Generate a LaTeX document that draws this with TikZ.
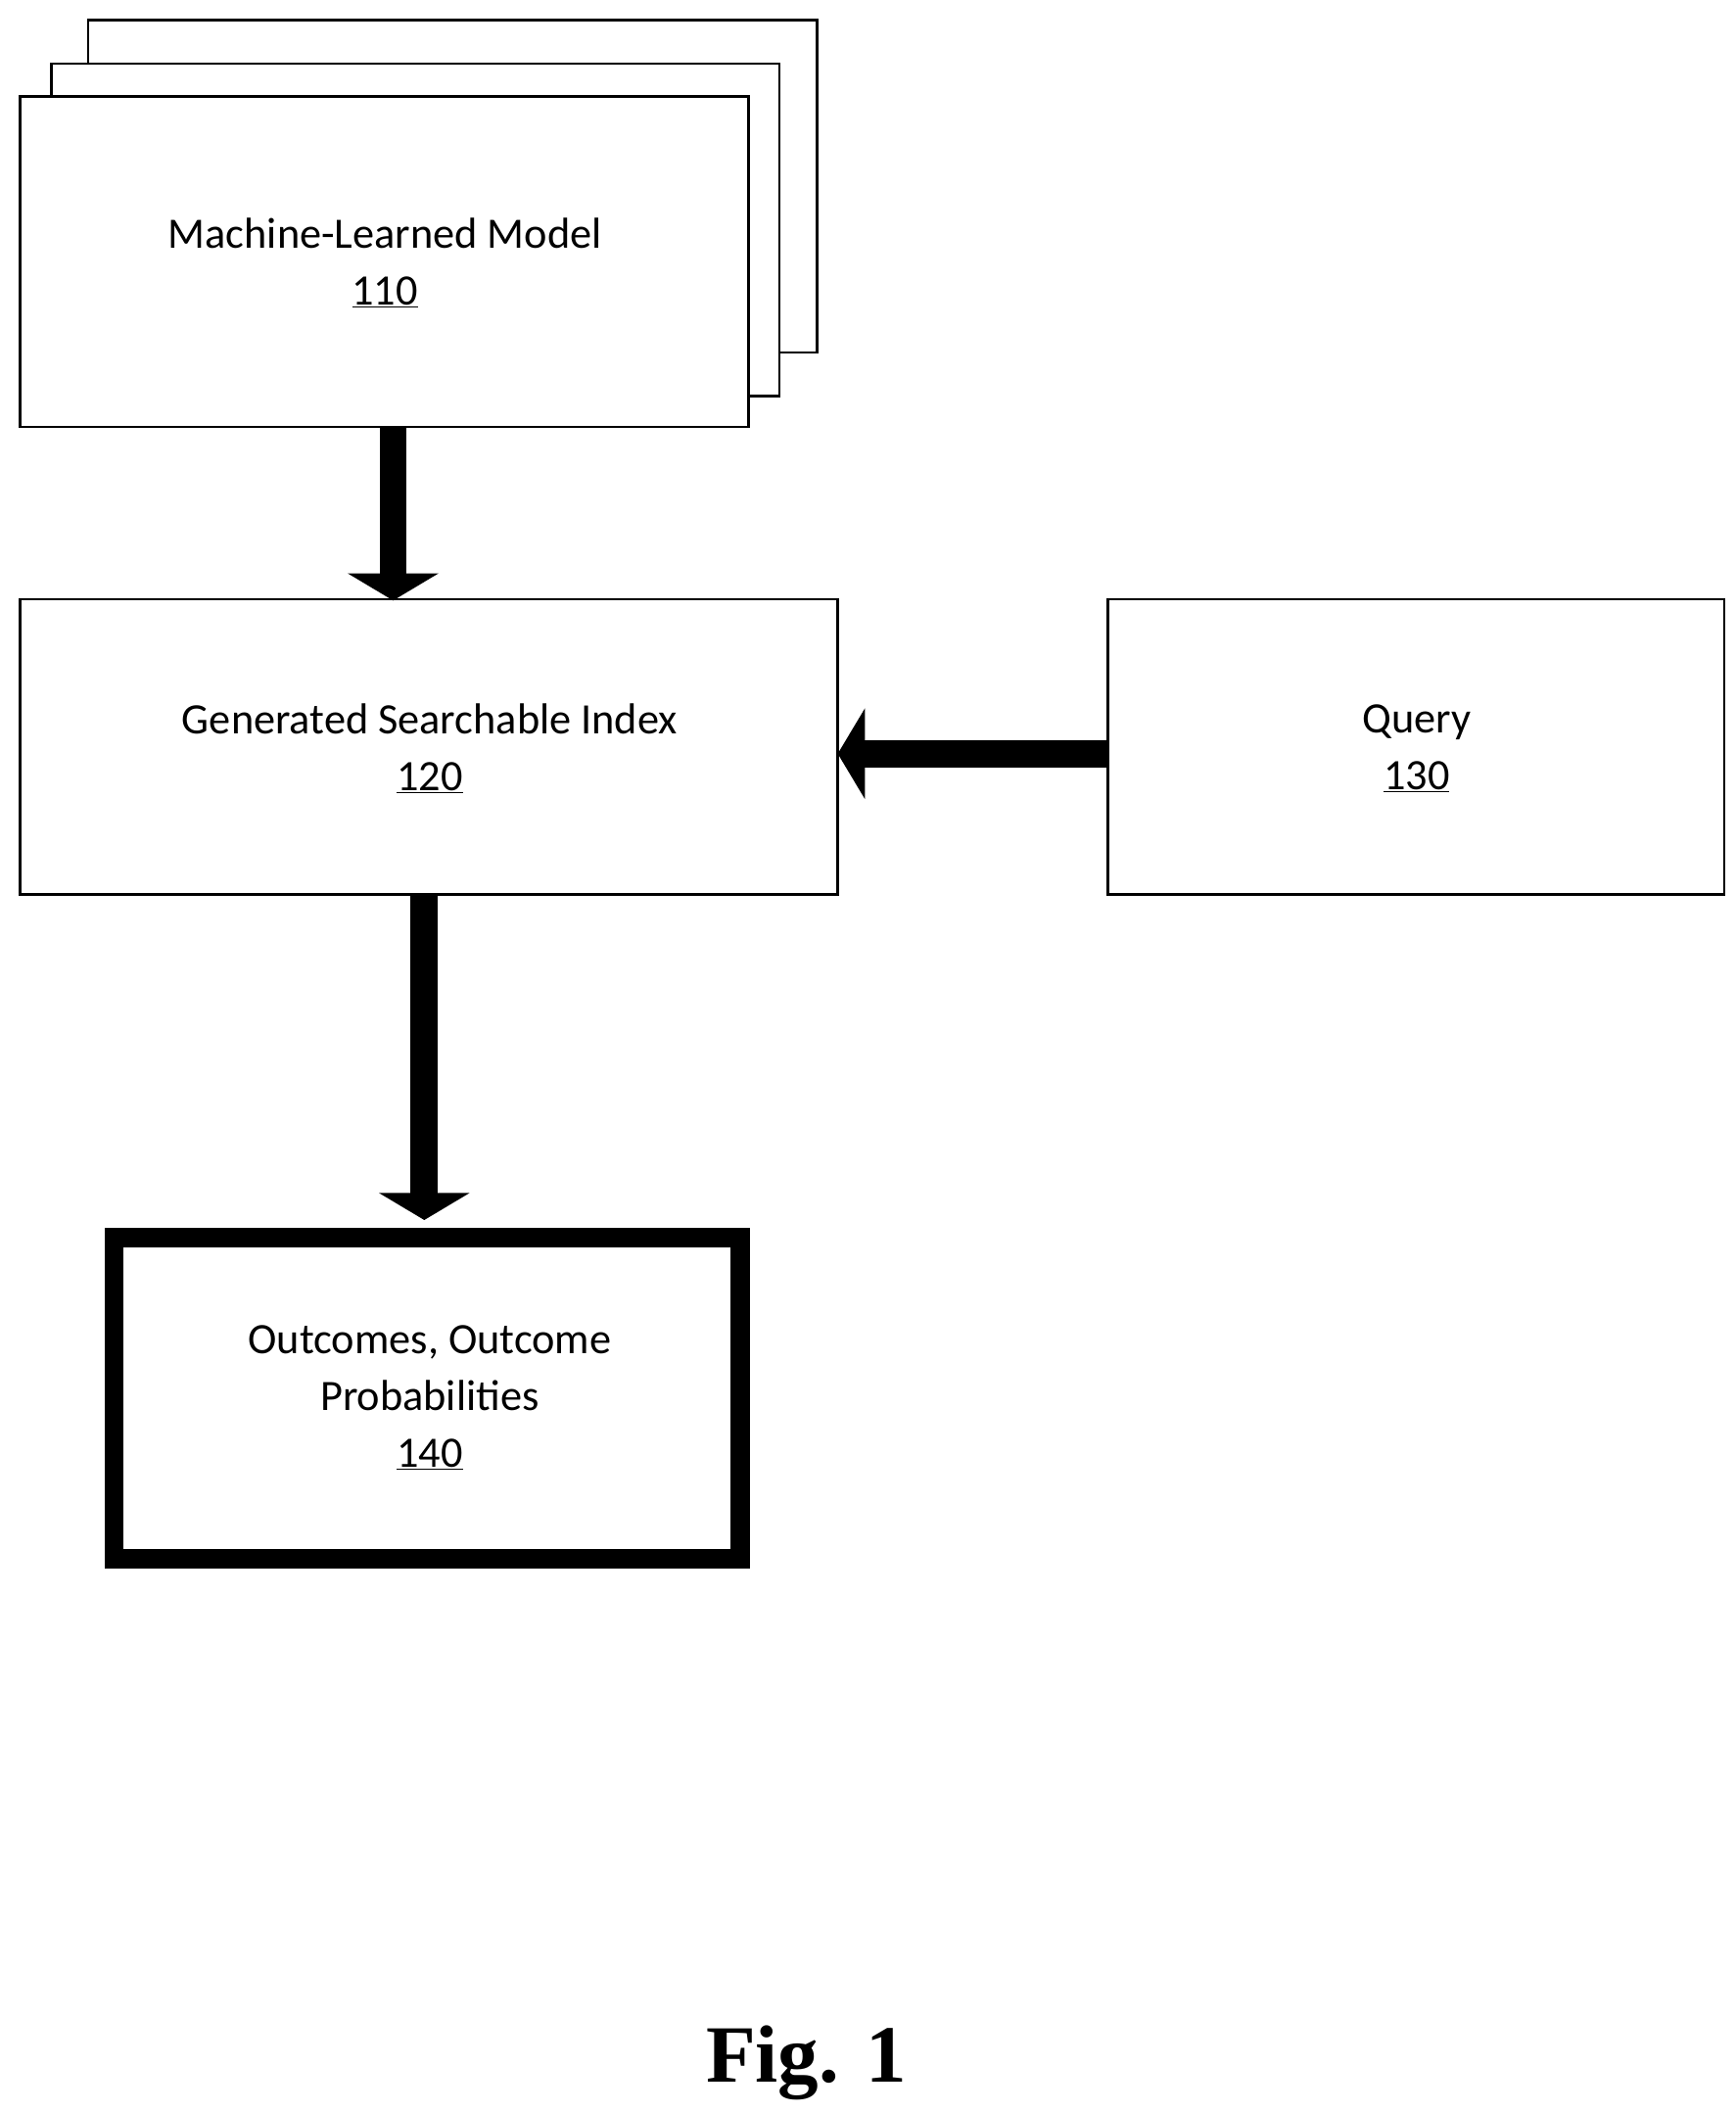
\documentclass[tikz,border=0pt]{standalone}
\usepackage{fontspec}
\setmainfont{Carlito}
\newfontfamily\figfont{Liberation Serif}
\usetikzlibrary{arrows.meta}
\begin{document}
\begin{tikzpicture}[x=1pt,y=-1pt,
  box/.style={draw,line width=2pt,fill=white},
  lbl/.style={font=\fontsize{32}{42}\selectfont,align=center},
  big/.style={line width=20pt,-{Triangle[width=66pt,length=20pt]}}]
\useasboundingbox (0,0) rectangle (1280,1558);
\draw[box] (65,15) rectangle (603,260);
\draw[box] (38,47) rectangle (575,292);
\draw[box] (15,71) rectangle (552,315);
\node[lbl] (m) at (284,194) {Machine-Learned Model\\\underline{110}};
\coordinate (mb) at (290,315);
\draw[box] (15,442) rectangle (618,660);
\node[lbl] (g) at (317,552) {Generated Searchable Index\\\underline{120}};
\coordinate (gt) at (290,443);
\coordinate (gr) at (618,556);
\coordinate (gb) at (313,660);
\draw[box] (817,442) rectangle (1272,660);
\node[lbl] (q) at (1045,552) {Query\\\underline{130}};
\coordinate (ql) at (817,556);
\draw[line width=14pt,fill=white] (84,913) rectangle (546,1150);
\node[lbl] (o) at (317,1031) {Outcomes, Outcome\\Probabilities\\\underline{140}};
\coordinate (ot) at (313,900);
\draw[big] (mb) -- (gt);
\draw[big] (ql) -- (gr);
\draw[big] (gb) -- (ot);
\node[font=\figfont\bfseries\fontsize{60}{70}\selectfont] (fig) at (595,1522) {Fig. 1};
\end{tikzpicture}
\end{document}
